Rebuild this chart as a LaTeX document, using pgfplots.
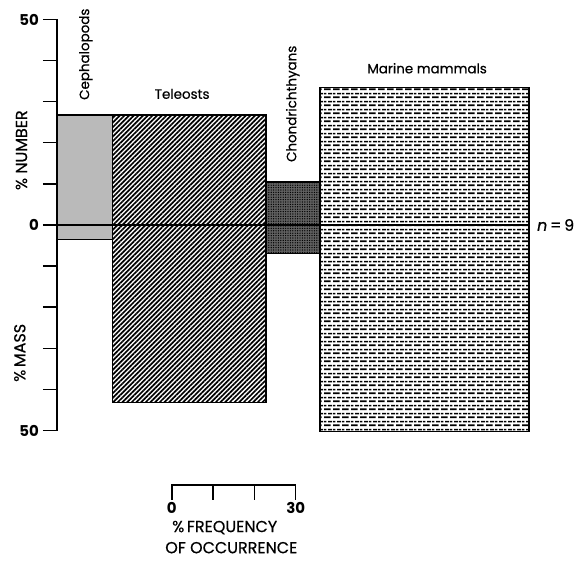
\documentclass[border=0pt]{standalone}
\usepackage{pgfplots}
\pgfplotsset{compat=1.18}
\usepackage{fontspec}
\setmainfont{Poppins}
\newfontfamily\medfont{Poppins}[FakeBold=0.6]
\usetikzlibrary{patterns,patterns.meta}

\pgfdeclarepattern{
  name=dashbricks,
  type=uncolored,
  bottom left={\pgfpoint{0bp}{0bp}},
  top right={\pgfpoint{9bp}{8bp}},
  tile size={\pgfpoint{9bp}{8bp}},
  code={
    \pgfsetlinewidth{1.9bp}
    \pgfpathmoveto{\pgfpoint{0bp}{2bp}}\pgfpathlineto{\pgfpoint{7.2bp}{2bp}}
    \pgfpathmoveto{\pgfpoint{4.5bp}{6bp}}\pgfpathlineto{\pgfpoint{9bp}{6bp}}
    \pgfpathmoveto{\pgfpoint{0bp}{6bp}}\pgfpathlineto{\pgfpoint{2.7bp}{6bp}}
    \pgfusepath{stroke}
  }
}
\tikzset{lbl/.style={inner sep=0pt, font=\medfont\fontsize{13.5}{15}\selectfont},
         caplbl/.style={inner sep=0pt, font=\medfont\fontsize{16}{18}\selectfont},
         num/.style={inner sep=0pt, font=\fontsize{15}{15}\selectfont\bfseries}}

\begin{document}
\begin{tikzpicture}
\begin{axis}[
  x=4.13bp, y=4.11bp,
  xmin=0, xmax=120, ymin=-50, ymax=50,
  axis x line=none,
  axis y line*=left,
  axis line style={line width=1.4bp, black},
  ytick={-50,-40,...,50},
  yticklabels={50,,,,,0,,,,,50},
  xtick=\empty,
  tick align=outside,
  major tick length=14bp,
  major tick style={line width=1.4bp, black},
  yticklabel style={font=\fontsize{15}{15}\selectfont\bfseries, inner sep=1bp, xshift=-3bp},
  /pgf/number format/assume math mode=true,
  clip=false,
]
% Cephalopods
\addplot[draw=black, line width=1.4bp, fill=black!27]
  coordinates {(0,26.8) (13.4,26.8) (13.4,-3.5) (0,-3.5)} -- cycle;
% Teleosts
\addplot[draw=black, line width=1.4bp, fill=white, postaction={pattern={Lines[angle=45, distance=3.3bp, line width=1.7bp]}}]
  coordinates {(13.4,26.8) (50.6,26.8) (50.6,-43.2) (13.4,-43.2)} -- cycle;
% Chondrichthyans
\addplot[draw=black, line width=1.4bp, fill=black!62, postaction={pattern={Dots[distance=2.4bp, radius=0.7bp]}}]
  coordinates {(50.6,10.5) (63.7,10.5) (63.7,-6.9) (50.6,-6.9)} -- cycle;
% Marine mammals
\addplot[draw=black, line width=1.4bp, fill=white, postaction={pattern=dashbricks}]
  coordinates {(63.7,33.5) (114.3,33.5) (114.3,-50.3) (63.7,-50.3)} -- cycle;
% zero line
\addplot[black, line width=1.4bp] coordinates {(0,0) (114.3,0)};

% labels
\node[lbl, rotate=90, anchor=west] at (axis cs:7.0,30.4) {Cephalopods};
\node[lbl, anchor=base] at (axis cs:30.3,30.7) {Teleosts};
\node[lbl, rotate=90, anchor=west] at (axis cs:57.1,15.3) {Chondrichthyans};
\node[lbl, anchor=base] at (axis cs:89.6,36.9) {Marine mammals};
\node[lbl, anchor=west, font=\medfont\fontsize{16}{16}\selectfont] at (axis cs:116.2,0) {{\itshape n}\,=\,9};
\node[caplbl, rotate=90] at (axis cs:-8.6,18.2) {\% NUMBER};
\node[caplbl, rotate=90] at (axis cs:-9.0,-31.1) {\%\,MASS};

% frequency scale bar
\draw[line width=1.4bp] (axis cs:27.8,-66.9) -- (axis cs:27.8,-63.3) -- (axis cs:57.8,-63.3) -- (axis cs:57.8,-66.9);
\draw[line width=1.4bp] (axis cs:37.8,-63.3) -- (axis cs:37.8,-66.9);
\draw[line width=1.4bp] (axis cs:47.8,-63.3) -- (axis cs:47.8,-66.9);
\node[num, anchor=north] at (axis cs:27.8,-67.4) {0};
\node[num, anchor=north] at (axis cs:57.8,-67.4) {30};
\node[caplbl] at (axis cs:40.6,-73.6) {\%\,FREQUENCY};
\node[caplbl] at (axis cs:42.2,-78.5) {OF OCCURRENCE};

\coordinate (bl) at (axis cs:-13.80,-82.0);
\coordinate (tr) at (axis cs:126.63,54.74);
\end{axis}
\pgfresetboundingbox
\useasboundingbox (bl) rectangle (tr);
\end{tikzpicture}
\end{document}
